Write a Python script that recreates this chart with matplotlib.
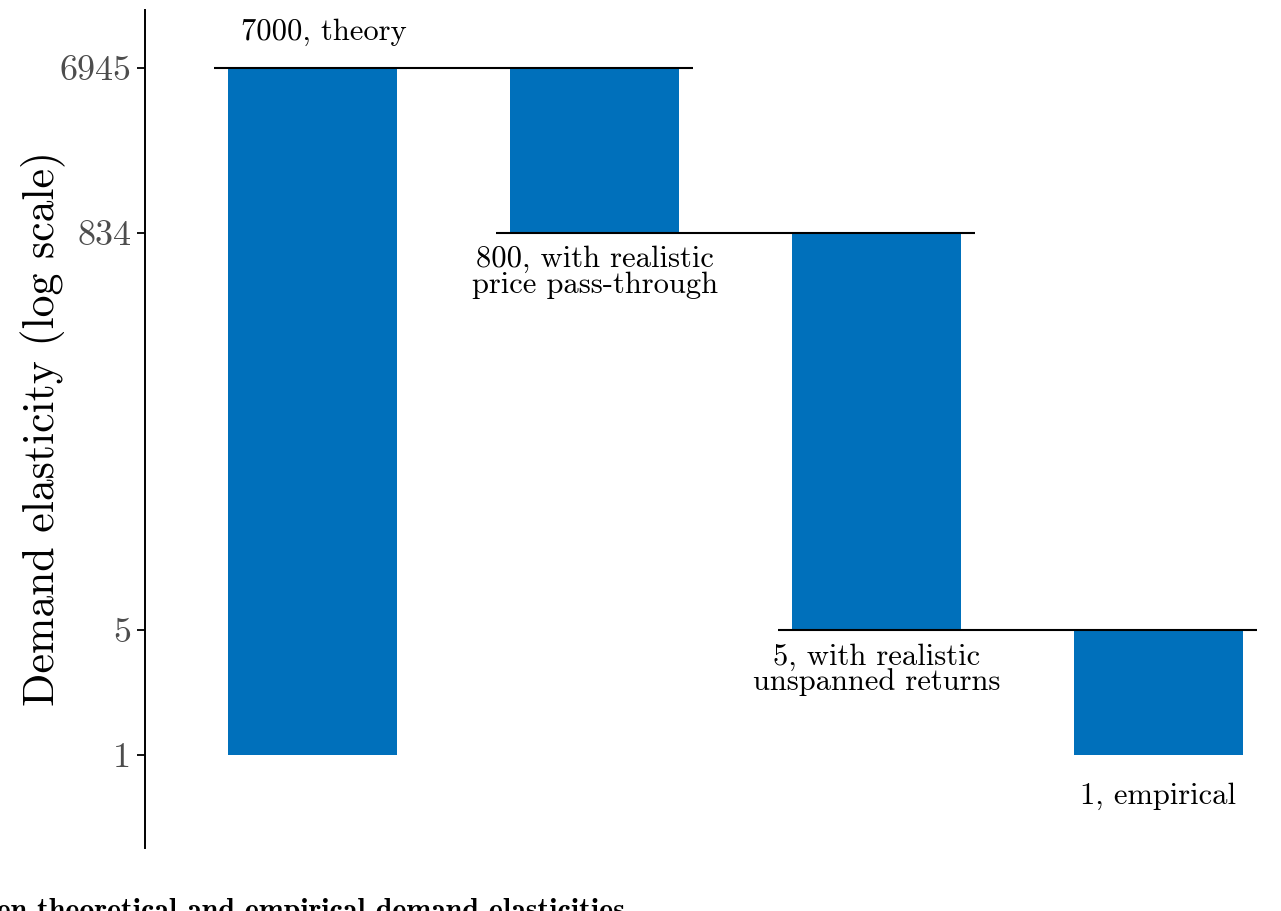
import matplotlib
matplotlib.use("Agg")
import matplotlib.pyplot as plt

plt.rcParams['font.family'] = ['cmr10', 'DejaVu Serif']
plt.rcParams['axes.formatter.use_mathtext'] = True

# levels reached after each step (log scale axis)
levels = [6945, 834, 5, 1]
tick_labels = ["6945", "834", "5", "1"]
bar_labels = ["7000, theory",
              "800, with realistic\nprice pass-through",
              "5, with realistic\nunspanned returns",
              "1, empirical"]
base = 1
bar_color = "#0070bb"

fig = plt.figure(figsize=(12.81, 9.11), dpi=100)
ax = fig.add_axes([145/1281, 63/911, 1 - 145/1281, 838/911])

x = [1, 2, 3, 4]
bottoms = [base] + levels[1:]
tops = [levels[0]] + levels[:-1]
heights = [t - b for t, b in zip(tops, bottoms)]
ax.bar(x, heights, bottom=bottoms, width=0.6, color=bar_color, zorder=2)

# connector lines between steps
for i in range(3):
    ax.hlines(levels[i], x[i] - 0.35, x[i + 1] + 0.35, color="black", lw=1.5, zorder=3)

ax.set_yscale("log")
ax.set_ylim(0.302, 14680)
ax.set_xlim(0.404, 4.436)
ax.set_yticks(levels)
ax.set_yticklabels(tick_labels)
ax.minorticks_off()
ax.set_xticks([])

for s in ["top", "right", "bottom"]:
    ax.spines[s].set_visible(False)
ax.spines["left"].set_linewidth(1.4)
ax.tick_params(axis="y", length=6, width=1.3, labelsize=26, labelcolor="#4d4d4d", pad=4)
ax.set_ylabel("Demand elasticity (log scale)", fontsize=31.5, labelpad=-5)

# step labels
ax.annotate(bar_labels[0], (x[0] + 0.04, tops[0]), xytext=(0, 22), textcoords="offset pixels",
            ha="center", va="bottom", fontsize=22)
for i in (1, 2):
    ax.annotate(bar_labels[i], (x[i], bottoms[i]), xytext=(0, -13), textcoords="offset pixels",
                ha="center", va="top", fontsize=22, linespacing=0.9)
ax.annotate(bar_labels[3], (x[3], bottoms[3]), xytext=(0, -27), textcoords="offset pixels",
            ha="center", va="top", fontsize=22)

fig.text(625/1281, -8/911, "Comparison between theoretical and empirical demand elasticities",
         ha="right", va="baseline", fontsize=21.5, family="cmb10")

fig.savefig("out.png", dpi=100)
